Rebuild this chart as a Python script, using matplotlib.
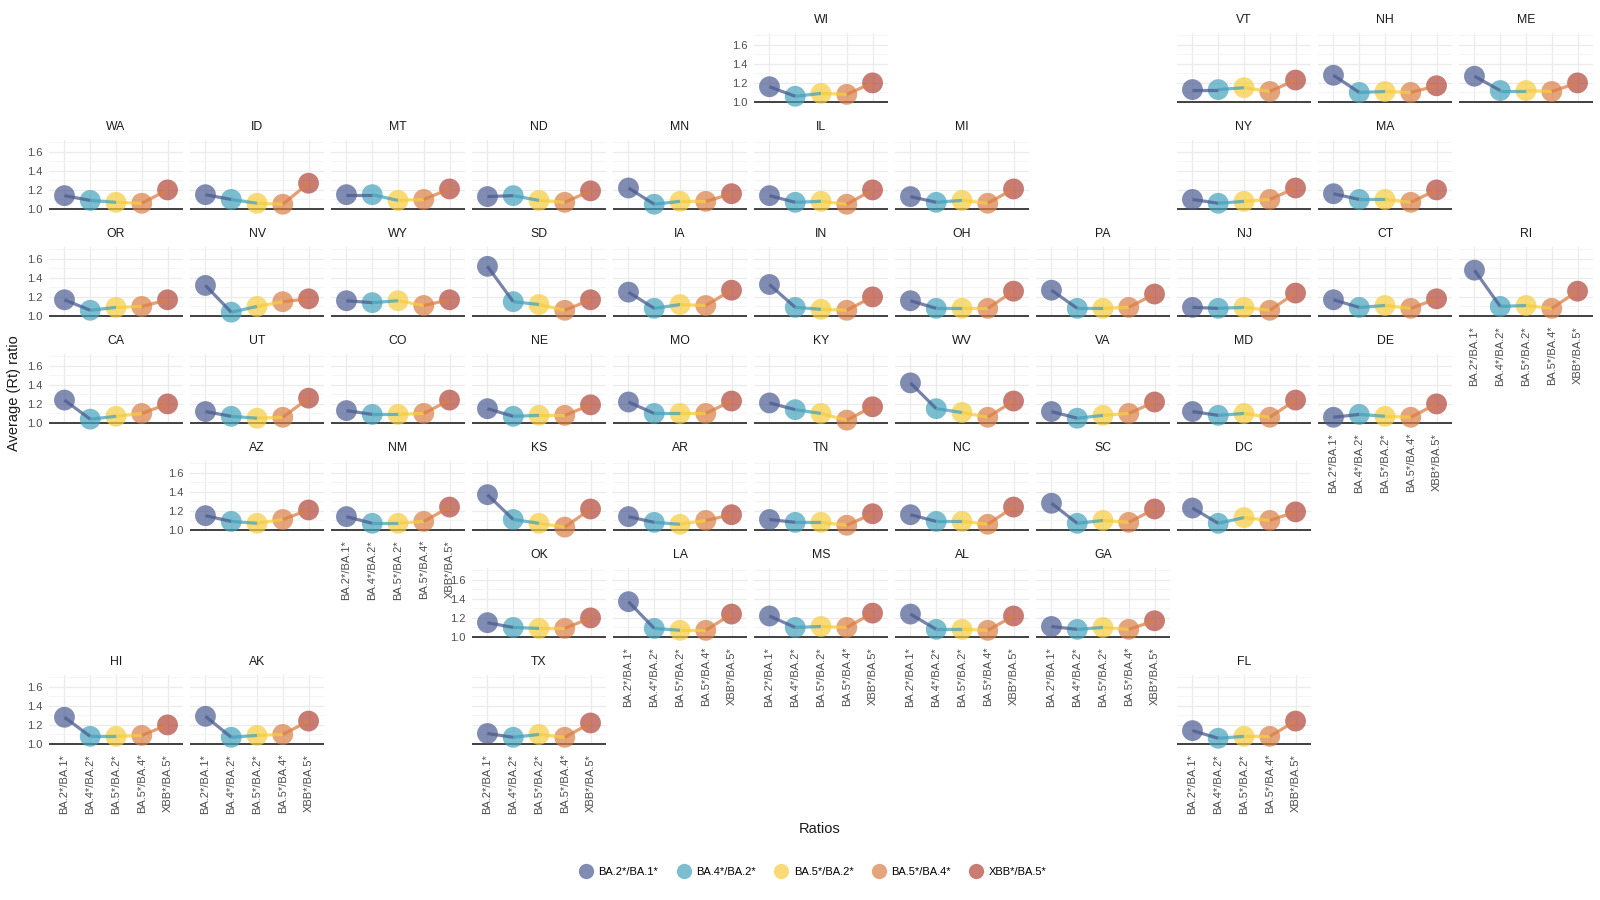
import matplotlib
matplotlib.use("Agg")
import matplotlib.pyplot as plt
from matplotlib.lines import Line2D

plt.rcParams['font.family'] = ['Liberation Sans', 'DejaVu Sans']

ratios = ["BA.2*/BA.1*", "BA.4*/BA.2*", "BA.5*/BA.2*", "BA.5*/BA.4*", "XBB*/BA.5*"]
colors = ["#4B5B91", "#45A2BC", "#F6CD3E", "#DB7F45", "#B14537"]

states = ["WI", "VT", "NH", "ME",
          "WA", "ID", "MT", "ND", "MN", "IL", "MI", "NY", "MA",
          "OR", "NV", "WY", "SD", "IA", "IN", "OH", "PA", "NJ", "CT", "RI",
          "CA", "UT", "CO", "NE", "MO", "KY", "WV", "VA", "MD", "DE",
          "AZ", "NM", "KS", "AR", "TN", "NC", "SC", "DC",
          "OK", "LA", "MS", "AL", "GA",
          "HI", "AK", "TX", "FL"]
grid_row = [0, 0, 0, 0,
            1, 1, 1, 1, 1, 1, 1, 1, 1,
            2, 2, 2, 2, 2, 2, 2, 2, 2, 2, 2,
            3, 3, 3, 3, 3, 3, 3, 3, 3, 3,
            4, 4, 4, 4, 4, 4, 4, 4,
            5, 5, 5, 5, 5,
            6, 6, 6, 6]
grid_col = [5, 8, 9, 10,
            0, 1, 2, 3, 4, 5, 6, 8, 9,
            0, 1, 2, 3, 4, 5, 6, 7, 8, 9, 10,
            0, 1, 2, 3, 4, 5, 6, 7, 8, 9,
            1, 2, 3, 4, 5, 6, 7, 8,
            3, 4, 5, 6, 7,
            0, 1, 3, 8]

ba2_ba1 = [1.16, 1.13, 1.28, 1.27,
           1.14, 1.15, 1.15, 1.13, 1.22, 1.14, 1.13, 1.10, 1.16,
           1.17, 1.32, 1.16, 1.52, 1.25, 1.33, 1.16, 1.27, 1.09, 1.17, 1.48,
           1.24, 1.12, 1.13, 1.15, 1.22, 1.21, 1.42, 1.12, 1.12, 1.06,
           1.15, 1.14, 1.37, 1.14, 1.11, 1.16, 1.28, 1.23,
           1.15, 1.37, 1.22, 1.24, 1.11,
           1.28, 1.29, 1.11, 1.14]
ba4_ba2 = [1.06, 1.13, 1.10, 1.12,
           1.09, 1.10, 1.15, 1.14, 1.05, 1.07, 1.07, 1.06, 1.10,
           1.06, 1.04, 1.14, 1.15, 1.08, 1.09, 1.08, 1.08, 1.08, 1.09, 1.10,
           1.04, 1.07, 1.09, 1.07, 1.10, 1.14, 1.15, 1.05, 1.08, 1.09,
           1.09, 1.07, 1.11, 1.08, 1.08, 1.09, 1.07, 1.07,
           1.10, 1.09, 1.10, 1.08, 1.08,
           1.08, 1.07, 1.07, 1.06]
ba5_ba2 = [1.09, 1.15, 1.11, 1.12,
           1.07, 1.06, 1.09, 1.09, 1.08, 1.08, 1.09, 1.08, 1.10,
           1.09, 1.10, 1.16, 1.12, 1.12, 1.07, 1.08, 1.08, 1.09, 1.11, 1.11,
           1.07, 1.05, 1.09, 1.08, 1.10, 1.10, 1.11, 1.08, 1.10, 1.07,
           1.07, 1.07, 1.07, 1.06, 1.08, 1.09, 1.10, 1.13,
           1.09, 1.07, 1.11, 1.08, 1.10,
           1.08, 1.09, 1.10, 1.08]
ba5_ba4 = [1.08, 1.11, 1.10, 1.11,
           1.06, 1.05, 1.10, 1.07, 1.08, 1.05, 1.06, 1.10, 1.07,
           1.10, 1.15, 1.11, 1.06, 1.11, 1.06, 1.08, 1.09, 1.06, 1.08, 1.08,
           1.10, 1.06, 1.10, 1.08, 1.10, 1.03, 1.06, 1.10, 1.06, 1.06,
           1.11, 1.09, 1.03, 1.10, 1.05, 1.06, 1.08, 1.10,
           1.09, 1.07, 1.10, 1.07, 1.08,
           1.09, 1.10, 1.07, 1.08]
xbb_ba5 = [1.20, 1.23, 1.17, 1.20,
           1.20, 1.27, 1.21, 1.19, 1.16, 1.20, 1.21, 1.22, 1.20,
           1.17, 1.18, 1.17, 1.17, 1.27, 1.20, 1.26, 1.23, 1.24, 1.18, 1.26,
           1.20, 1.26, 1.24, 1.19, 1.23, 1.17, 1.23, 1.22, 1.24, 1.20,
           1.21, 1.24, 1.22, 1.16, 1.17, 1.24, 1.22, 1.19,
           1.20, 1.24, 1.25, 1.22, 1.17,
           1.20, 1.24, 1.22, 1.24]

show_y = {"WI", "WA", "OR", "CA", "AZ", "OK", "HI"}
show_x = {"RI", "DE", "NM", "LA", "MS", "AL", "GA", "HI", "AK", "TX", "FL"}

W, H = 1600, 900
fig = plt.figure(figsize=(16, 9), dpi=100)

X0, XPITCH, PW = 49, 141, 134
B0, YPITCH = 102, 107
PX_PER_UNIT = 95.5
YLO, YHI = 0.985, 1.72
PH = (YHI - YLO) * PX_PER_UNIT

series = [ba2_ba1, ba4_ba2, ba5_ba2, ba5_ba4, xbb_ba5]
xs = [1, 2, 3, 4, 5]

for k, st in enumerate(states):
    r, c = grid_row[k], grid_col[k]
    left = X0 + XPITCH * c
    base = B0 + YPITCH * r
    bottom_px = base + (1.0 - YLO) * PX_PER_UNIT
    top_px = bottom_px - PH
    ax = fig.add_axes([left / W, 1 - bottom_px / H, PW / W, PH / H])
    vals = [s[k] for s in series]
    ax.set_xlim(0.4, 5.6)
    ax.set_ylim(YLO, YHI)
    ax.set_xticks(xs)
    ax.set_yticks([1.0, 1.2, 1.4, 1.6])
    ax.set_yticks([1.1, 1.3, 1.5, 1.7], minor=True)
    ax.grid(which='major', color='#EBEBEB', lw=0.9)
    ax.grid(which='minor', axis='y', color='#F2F2F2', lw=0.5)
    ax.set_axisbelow(True)
    ax.tick_params(which='both', length=0)
    for sp in ax.spines.values():
        sp.set_visible(False)
    ax.axhline(1.0, color='#333333', lw=1.3, zorder=1.5)
    ax.scatter(xs, vals, s=225, c=colors, alpha=0.7, edgecolors='none',
               zorder=2, clip_on=False)
    for i in range(4):
        ax.plot([xs[i], xs[i + 1]], [vals[i], vals[i + 1]], color=colors[i],
                lw=2.3, alpha=0.75, solid_capstyle='butt', zorder=3, clip_on=False)
    if st in show_y:
        ax.set_yticklabels(['1.0', '1.2', '1.4', '1.6'], fontsize=8, color='#4D4D4D')
        ax.tick_params(axis='y', pad=4.5)
    else:
        ax.set_yticklabels([])
    if st in show_x:
        ax.set_xticklabels(ratios, rotation=90, fontsize=8, color='#4D4D4D')
        ax.tick_params(axis='x', pad=6)
    else:
        ax.set_xticklabels([])
    fig.text((left + PW / 2) / W, 1 - (top_px - 13.5) / H, st,
             ha='center', va='center', fontsize=8.8, color='#1A1A1A')

fig.text(14 / W, 1 - 393 / H, "Average (Rt) ratio", rotation=90,
         ha='center', va='center', fontsize=10.5, color='#1A1A1A')
fig.text(820 / W, 1 - 829 / H, "Ratios", ha='center', va='center',
         fontsize=10.5, color='#1A1A1A')

handles = [Line2D([0], [0], marker='o', linestyle='none', markersize=11,
                  markerfacecolor=col, markeredgecolor='none', alpha=0.7)
           for col in colors]
fig.legend(handles, ratios, loc='center', bbox_to_anchor=(813 / W, 1 - 872 / H),
           ncol=5, frameon=False, fontsize=8, handletextpad=0.5,
           columnspacing=1.7, handlelength=1.2)

fig.savefig("out.png", dpi=100, facecolor='white')
